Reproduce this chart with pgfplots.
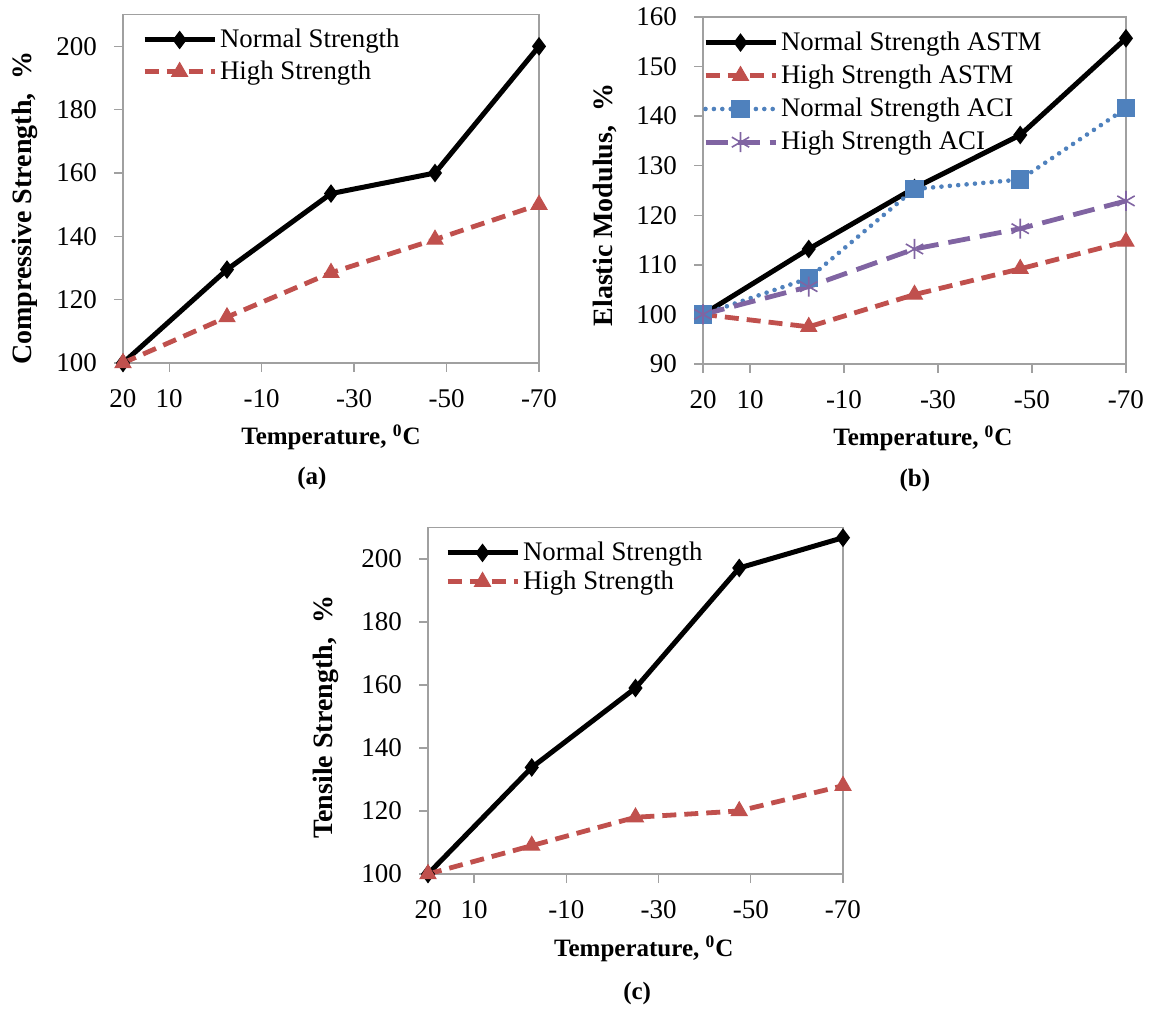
\documentclass[border=0pt]{standalone}
\usepackage{pgfplots}
\pgfplotsset{compat=1.18}
\usepackage{fontspec}
\setmainfont{Liberation Serif}
\definecolor{exred}{HTML}{C0504D}
\definecolor{exblue}{HTML}{4F81BD}
\definecolor{expurple}{HTML}{8064A2}
\definecolor{axgray}{HTML}{A0A0A0}
\newcommand{\fs}{\fontsize{12.5}{14}\selectfont}
\newcommand{\fst}{\fontsize{13.5}{15}\selectfont}
\newcommand{\fsl}{\fontsize{13.4}{15}\selectfont}
\newcommand{\fsy}{\fontsize{14}{16}\selectfont}
\pgfplotsset{
  panel/.style={
    scale only axis, clip=false,
    x dir=reverse, xmin=-70, xmax=20,
    xtick={20,10,-10,-30,-50,-70},
    xticklabels={20,10,-10,-30,-50,-70},
    tick align=outside, xtick pos=left, ytick pos=left,
    major tick length=4.5pt,
    axis line style={axgray, line width=0.7pt},
    every tick/.style={axgray, line width=0.7pt},
    /pgf/number format/assume math mode=true,
    tick label style={font=\fst, black},
    xticklabel style={yshift=-5pt},
    yticklabel style={xshift=-5pt},
    every axis x label/.style={font=\bfseries\fs, at={(axis description cs:0.52,0)}, anchor=base, yshift=-41pt},
    legend cell align=left,
    legend style={draw=none, fill=none, font=\fsl, anchor=north west, inner sep=0pt, outer sep=0pt,
       nodes={inner sep=1.5pt}},
    legend image code/.code={
      \draw[mark repeat=2,mark phase=2,#1] plot coordinates {(0pt,0pt) (17.5pt,0pt) (35pt,0pt)};
    },
  },
  ns/.style={black, line width=2.5pt, mark=diamond*, mark size=4.2pt, mark options={solid, line width=0.6pt, fill=black}},
  hs/.style={exred, line width=2.4pt, dash pattern=on 7pt off 4pt, mark=triangle*, mark size=4.6pt, mark options={solid, line width=0.5pt, fill=exred}},
  na/.style={exblue, line width=2.3pt, line cap=round, dash pattern=on 0pt off 4.2pt, mark=square*, mark size=4.3pt, mark options={solid, line width=0.5pt, fill=exblue}},
  ha/.style={expurple, line width=2.4pt, dash pattern=on 11pt off 5pt, mark=asterisk, mark size=5pt, mark options={solid, line width=0.8pt}},
}
\begin{document}
\begin{tikzpicture}
% ---------------- (a) ----------------
\begin{axis}[panel, at={(61.5pt,324pt)}, anchor=south west, width=208pt, height=174.15pt,
  ymin=100, ymax=210, ytick={100,120,...,200},
  xlabel={Temperature, \textsuperscript{0}C},
  xlabel style={at={(axis description cs:0.50,0)}},
  ylabel={Compressive Strength,~~\%},
  every axis y label/.style={font=\bfseries\fsy, at={(axis description cs:-0.236,0.445)}, rotate=90, anchor=center},
  legend style={at={(axis description cs:0.046,0.967)}, row sep=2.1pt}]
\addplot[ns] coordinates {(20,100) (-2.5,129.5) (-25,153.5) (-47.5,160) (-70,200)};
\addlegendentry{Normal Strength}
\addplot[hs] coordinates {(20,100) (-2.5,114.5) (-25,128.5) (-47.5,139) (-70,150)};
\addlegendentry{High Strength}
\node[font=\bfseries\fs] at (axis description cs:0.454,-0.333) {(a)};
\end{axis}
% ---------------- (b) ----------------
\begin{axis}[panel, at={(351.5pt,323.5pt)}, anchor=south west, width=211.5pt, height=173.5pt,
  ymin=90, ymax=160, ytick={90,100,...,160},
  xlabel={Temperature, \textsuperscript{0}C},
  ylabel={Elastic Modulus,~~\%},
  every axis y label/.style={font=\bfseries\fsy, at={(axis description cs:-0.232,0.458)}, rotate=90, anchor=center},
  legend style={at={(axis description cs:0.0,0.966)}, row sep=2.8pt}]
\addplot[ns] coordinates {(20,100) (-2.5,113.2) (-25,125.5) (-47.5,136.2) (-70,155.7)};
\addlegendentry{Normal Strength ASTM}
\addplot[hs] coordinates {(20,100) (-2.5,97.5) (-25,104) (-47.5,109.2) (-70,114.7)};
\addlegendentry{High Strength ASTM}
\addplot[na] coordinates {(20,100) (-2.5,107.3) (-25,125.3) (-47.5,127.2) (-70,141.6)};
\addlegendentry{Normal Strength ACI}
\addplot[ha] coordinates {(20,100) (-2.5,105.6) (-25,113.2) (-47.5,117.3) (-70,122.9)};
\addlegendentry{High Strength ACI}
\node[font=\bfseries\fs] at (axis description cs:0.501,-0.337) {(b)};
\end{axis}
% ---------------- (c) ----------------
\begin{axis}[panel, at={(214pt,68.5pt)}, anchor=south west, width=207.5pt, height=173.35pt,
  ymin=100, ymax=210, ytick={100,120,...,200},
  xlabel={Temperature, \textsuperscript{0}C},
  ylabel={Tensile Strength,~~\%},
  every axis y label/.style={font=\bfseries\fsy, at={(axis description cs:-0.246,0.452)}, rotate=90, anchor=center},
  legend style={at={(axis description cs:0.041,0.966)}, row sep=0.6pt}]
\addplot[ns] coordinates {(20,100) (-2.5,133.8) (-25,159) (-47.5,197.1) (-70,206.7)};
\addlegendentry{Normal Strength}
\addplot[hs] coordinates {(20,100) (-2.5,109) (-25,118) (-47.5,120) (-70,128)};
\addlegendentry{High Strength}
\node[font=\bfseries\fs] at (axis description cs:0.504,-0.346) {(c)};
\end{axis}
\pgfresetboundingbox
\path[use as bounding box] (0,0) rectangle (574.5pt,505.5pt);
\end{tikzpicture}
\end{document}
